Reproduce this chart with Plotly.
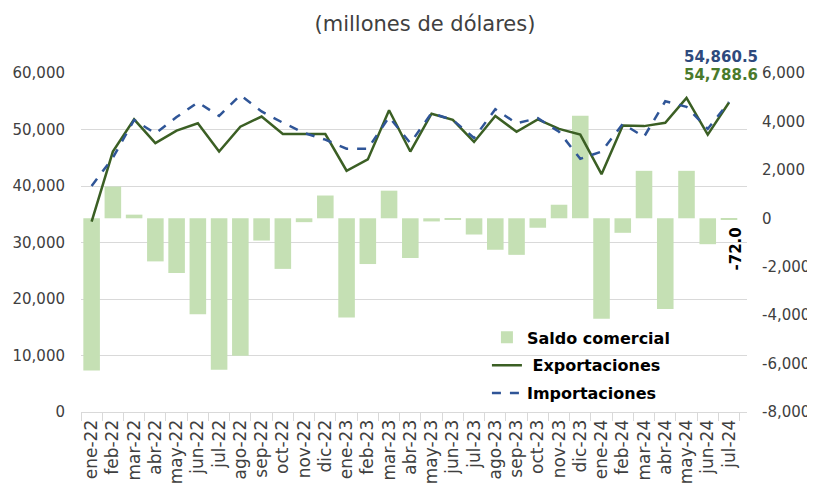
import plotly.graph_objects as go

months = ["ene-22","feb-22","mar-22","abr-22","may-22","jun-22","jul-22","ago-22","sep-22","oct-22","nov-22","dic-22",
          "ene-23","feb-23","mar-23","abr-23","may-23","jun-23","jul-23","ago-23","sep-23","oct-23","nov-23","dic-23",
          "ene-24","feb-24","mar-24","abr-24","may-24","jun-24","jul-24"]

exportaciones = [33700, 46100, 51800, 47600, 49800, 51100, 46100, 50500, 52300, 49200, 49200, 49200,
                 42700, 44700, 53400, 46100, 52800, 51700, 47800, 52400, 49600, 51800, 50100, 49100,
                 42100, 50700, 50600, 51200, 55600, 49100, 54788.6]

importaciones = [40000, 45000, 51700, 49300, 52200, 54800, 52400, 56100, 53200, 51200, 49400, 48200,
                 46600, 46600, 52200, 47600, 52900, 51700, 48500, 53600, 51100, 52000, 49600, 44800,
                 46100, 51000, 48700, 55000, 54000, 50100, 54860.5]

saldo = [-6290, 1310, 150, -1780, -2260, -3960, -6250, -5680, -920, -2090, -160, 940,
         -4100, -1890, 1140, -1640, -130, -30, -670, -1300, -1510, -390, 560, 4230,
         -4150, -600, 1960, -3750, 1960, -1070, -72.0]

left_ticks = [0, 10000, 20000, 30000, 40000, 50000, 60000]
left_labels = ["0", "10,000", "20,000", "30,000", "40,000", "50,000", "60,000"]
right_ticks = [-8000, -6000, -4000, -2000, 0, 2000, 4000, 6000]
right_labels = ["-8,000", "-6,000", "-4,000", "-2,000", "0", "2,000", "4,000", "6,000"]

FONT = "DejaVu Sans"
GREEN_BAR = "#C5E0B4"
GREEN_LINE = "#3B5F24"
BLUE_LINE = "#2F5597"

fig = go.Figure()

fig.add_trace(go.Bar(
    x=months, y=saldo, name="Saldo comercial", marker=dict(color=GREEN_BAR, line=dict(width=0)),
    yaxis="y", legendrank=1, legendgroup="a",
))
fig.add_trace(go.Scatter(
    x=months, y=exportaciones, name=" Exportaciones", mode="lines",
    line=dict(color=GREEN_LINE, width=2.5), yaxis="y2", legendrank=2, legendgroup="b",
))
fig.add_trace(go.Scatter(
    x=months, y=importaciones, name="Importaciones", mode="lines",
    line=dict(color=BLUE_LINE, width=2.5, dash="dash"), yaxis="y2", legendrank=3, legendgroup="c",
))

fig.add_annotation(x=1.0195, y=1, xref="paper", yref="paper", text="<b>54,860.5</b>",
                   showarrow=False, xanchor="right", yanchor="middle", yshift=16,
                   font=dict(family=FONT, size=15, color="#2E4A7D"))
fig.add_annotation(x=1.0195, y=1, xref="paper", yref="paper", text="<b>54,788.6</b>",
                   showarrow=False, xanchor="right", yanchor="middle", yshift=-2,
                   font=dict(family=FONT, size=15, color="#4A7A2C"))
fig.add_annotation(x=months[-1], y=saldo[-1], xref="x", yref="y", text="<b>-72.0</b>",
                   showarrow=False, textangle=-90, xanchor="center", yanchor="top", xshift=7, yshift=-6,
                   font=dict(family=FONT, size=15, color="#000000"))

# page body has an 8px margin, so the figure is sized to the visible area
fig.update_layout(
    width=807, height=496,
    margin=dict(l=73, r=68, t=65, b=92, autoexpand=False),
    paper_bgcolor="white", plot_bgcolor="white",
    font=dict(family=FONT, color="#404040"),
    title=dict(text="(millones de dólares)", x=0.5165, xref="paper", y=1 - 16 / 496, yref="container",
               xanchor="center", yanchor="middle", automargin=False,
               font=dict(family=FONT, size=21, color="#404040")),
    bargap=0.22,
    showlegend=True,
    legend=dict(x=0.6095, y=0.27, xanchor="left", yanchor="top", bgcolor="rgba(0,0,0,0)",
                font=dict(family=FONT, size=16, color="#000000", weight="bold"),
                traceorder="grouped", tracegroupgap=4),
    xaxis=dict(type="category", showline=True, linecolor="#D9D9D9", linewidth=1, automargin=False,
               ticks="outside", tickson="boundaries", ticklen=8, tickcolor="#D9D9D9",
               tickangle=-90, tickfont=dict(family=FONT, size=17, color="#404040"),
               showgrid=False, zeroline=False),
    yaxis=dict(side="right", range=[-8000, 6000], tickvals=right_ticks, ticktext=right_labels,
               automargin=False, showgrid=False, zeroline=False, showline=False,
               ticklabelstandoff=14, tickfont=dict(family=FONT, size=15, color="#404040")),
    yaxis2=dict(side="left", overlaying="y", range=[0, 60000], tickvals=left_ticks, ticktext=left_labels,
                automargin=False, showgrid=True, gridcolor="#D9D9D9", gridwidth=1,
                zeroline=False, showline=False, ticklabelstandoff=15,
                tickfont=dict(family=FONT, size=15, color="#404040")),
)

fig.write_html("out.html")
